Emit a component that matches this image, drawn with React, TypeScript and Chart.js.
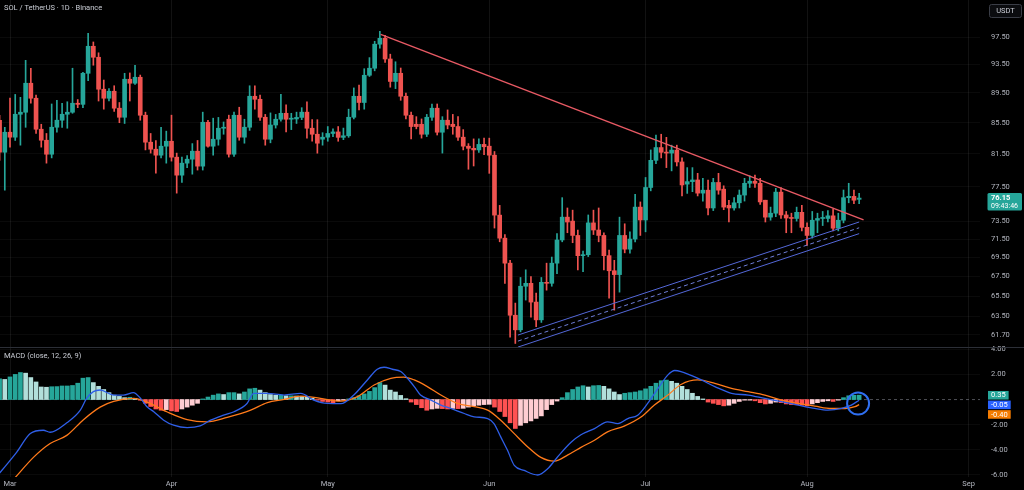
import React, { useEffect, useRef } from "react";
import { Chart, registerables } from "chart.js";

Chart.register(...registerables);

const FONT = "Roboto, 'Liberation Sans', sans-serif";
const TITLE = "SOL / TetherUS · 1D · Binance";
const MACD_TITLE = "MACD (close, 12, 26, 9)";
const COUNTDOWN = "09:43:46";
const CURRENCY = "USDT";

// day index of the first candle (Mar 1 = day 0)
const FIRST_DAY = -2;

// [open, high, low, close] for each daily candle
const candleOHLC: number[][] = [
  [85.83, 86.49, 80.7, 81.71],
  [81.71, 84.9, 77.08, 84.26],
  [84.26, 88.8, 82.35, 83.62],
  [83.62, 89.3, 83.2, 86.62],
  [86.62, 88.9, 82.6, 86.89],
  // 3..7
  [86.89, 94.11, 84.9, 90.85],
  [90.85, 92.97, 88.1, 88.78],
  [88.78, 89.2, 84.1, 84.65],
  [84.65, 85.3, 82.35, 83.23],
  [83.23, 84.1, 80.35, 81.46],
  // 8..12
  [81.46, 88.0, 81.0, 84.91],
  [84.91, 88.5, 84.26, 85.83],
  [85.83, 88.1, 84.9, 86.62],
  [86.62, 88.3, 84.78, 86.89],
  [86.89, 92.97, 86.75, 88.1],
  // 13..17
  [88.1, 88.6, 87.5, 87.95],
  [87.95, 92.4, 87.5, 92.25],
  [92.25, 98.1, 91.2, 96.16],
  [96.16, 96.8, 93.4, 94.55],
  [94.55, 95.2, 88.4, 90.02],
  // 18..22
  [90.02, 91.3, 87.3, 88.78],
  [88.78, 90.1, 88.4, 89.74],
  [89.74, 90.5, 87.0, 87.43],
  [87.43, 88.2, 85.5, 86.22],
  [86.22, 92.25, 85.4, 91.41],
  // 23..27
  [91.41, 92.3, 88.4, 90.85],
  [90.85, 93.4, 90.7, 91.69],
  [91.69, 92.0, 85.83, 86.49],
  [86.49, 86.9, 82.0, 82.98],
  [82.98, 84.1, 81.6, 82.09],
  // 28..32
  [82.09, 83.2, 79.12, 81.34],
  [81.34, 84.9, 81.0, 82.47],
  [82.47, 84.4, 80.35, 83.1],
  [83.1, 86.5, 80.6, 81.09],
  [81.09, 81.6, 76.73, 78.88],
  // 33..37
  [78.88, 81.1, 78.0, 80.35],
  [80.35, 81.3, 79.8, 80.84],
  [80.84, 82.8, 79.0, 81.84],
  [81.84, 83.2, 79.5, 79.98],
  [79.98, 86.9, 79.5, 85.56],
  // 38..42
  [85.56, 85.83, 82.35, 82.47],
  [82.47, 86.1, 81.34, 83.36],
  [83.36, 86.2, 82.6, 84.78],
  [84.78, 85.6, 84.0, 84.91],
  [85.96, 86.5, 81.1, 81.46],
  // 43..47
  [81.46, 86.9, 81.2, 86.49],
  [86.49, 87.56, 83.23, 83.62],
  [83.62, 85.96, 82.85, 84.91],
  [84.91, 90.5, 84.5, 89.05],
  [89.05, 90.5, 87.3, 88.64],
  // 48..52
  [88.64, 89.2, 85.8, 86.22],
  [86.22, 86.6, 82.6, 83.36],
  [83.36, 86.8, 82.9, 85.2],
  [85.2, 86.6, 84.8, 85.96],
  [85.96, 89.3, 85.7, 86.75],
  // 53..57
  [86.75, 87.9, 84.3, 85.96],
  [85.96, 86.75, 84.6, 86.1],
  [86.0, 86.9, 85.4, 86.2],
  [86.2, 87.5, 85.9, 86.9],
  [86.9, 88.3, 83.5, 84.78],
  // 58..62
  [84.78, 85.9, 83.1, 84.0],
  [84.0, 85.9, 81.59, 82.85],
  [83.36, 84.2, 82.6, 83.62],
  [83.62, 85.0, 83.1, 84.1],
  [84.1, 84.7, 83.7, 84.3],
  // 63..67
  [84.3, 85.0, 83.1, 83.6],
  [83.6, 84.8, 83.3, 83.8],
  [83.8, 87.3, 83.6, 86.22],
  [86.22, 90.2, 86.0, 89.05],
  [89.05, 90.6, 87.2, 88.2],
  // 68..72
  [88.2, 92.9, 87.3, 91.97],
  [91.97, 94.5, 91.8, 92.97],
  [92.97, 96.9, 92.6, 96.47],
  [96.47, 98.4, 95.9, 97.35],
  [97.35, 97.8, 93.8, 94.3],
  // 73..77
  [94.3, 95.0, 90.3, 91.1],
  [91.1, 93.9, 90.1, 92.25],
  [92.25, 93.0, 88.5, 89.05],
  [89.05, 89.5, 86.0, 86.49],
  [86.49, 86.9, 83.4, 85.0],
  // 78..82
  [85.3, 86.3, 84.7, 85.0],
  [85.3, 86.0, 83.5, 84.0],
  [84.0, 86.6, 83.7, 86.22],
  [86.22, 88.0, 85.8, 87.43],
  [87.43, 88.0, 83.9, 84.26],
  // 83..87
  [84.26, 86.3, 81.6, 85.83],
  [85.83, 87.2, 84.7, 85.2],
  [85.3, 86.6, 84.0, 85.0],
  [85.0, 86.3, 83.2, 83.62],
  [83.62, 84.6, 82.0, 82.47],
  // 88..92
  [82.47, 82.8, 79.6, 82.2],
  [82.2, 83.4, 80.0, 82.0],
  [82.0, 83.4, 81.7, 82.7],
  [82.7, 83.5, 81.4, 82.4],
  [82.47, 83.5, 79.1, 81.34],
  // 93..97
  [81.34, 81.8, 72.72, 74.18],
  [74.18, 75.3, 71.2, 71.6],
  [71.6, 72.0, 66.8, 68.9],
  [68.9, 69.2, 61.5, 63.6],
  [63.6, 64.8, 60.9, 62.19],
  // 98..102
  [62.19, 67.4, 62.0, 66.5],
  [66.5, 68.2, 65.1, 66.8],
  [66.8, 67.5, 63.4, 64.9],
  [64.9, 65.8, 62.5, 63.15],
  [63.15, 67.4, 62.9, 66.9],
  // 103..107
  [66.9, 68.9, 66.1, 66.8],
  [66.8, 69.55, 66.5, 68.9],
  [68.9, 72.1, 67.8, 71.4],
  [71.4, 76.2, 71.2, 73.95],
  [73.95, 75.0, 72.2, 73.4],
  // 108..112
  [73.5, 74.75, 71.1, 71.9],
  [71.9, 72.5, 68.2, 69.7],
  [69.7, 70.2, 68.0, 69.8],
  [69.8, 74.2, 69.6, 73.3],
  [73.3, 74.75, 72.0, 72.5],
  // 113..117
  [72.5, 75.0, 71.2, 71.9],
  [71.9, 72.2, 68.2, 69.7],
  [69.7, 70.3, 65.3, 68.1],
  [68.1, 69.2, 64.1, 67.7],
  [67.7, 73.95, 65.9, 71.9],
  // 118..122
  [71.9, 73.2, 70.0, 70.4],
  [70.4, 72.3, 69.98, 71.5],
  [71.5, 76.6, 71.2, 75.1],
  [75.1, 75.7, 71.9, 73.63],
  [73.63, 78.6, 72.3, 77.4],
  // 123..127
  [77.4, 82.0, 77.0, 80.7],
  [80.7, 83.9, 80.3, 82.3],
  [82.3, 84.0, 81.0, 81.7],
  [81.7, 83.6, 79.8, 81.6],
  [81.6, 82.6, 79.4, 81.98],
  // 128..132
  [81.98, 82.6, 80.0, 80.5],
  [80.5, 81.0, 76.4, 77.7],
  [77.8, 79.8, 76.7, 78.1],
  [78.1, 79.8, 76.9, 78.3],
  [78.3, 79.1, 76.4, 76.73],
  // 133..137
  [76.73, 78.5, 75.8, 77.08],
  [77.08, 78.28, 74.2, 75.0],
  [75.0, 78.5, 74.7, 78.0],
  [78.0, 79.1, 76.6, 77.08],
  [77.2, 77.6, 74.8, 75.1],
  // 138..142
  [75.3, 75.9, 73.4, 75.0],
  [75.0, 76.2, 74.75, 75.6],
  [75.6, 77.1, 75.0, 76.5],
  [76.5, 78.5, 75.8, 77.9],
  [77.9, 78.8, 77.4, 78.15],
  // 143..147
  [78.15, 78.9, 77.4, 77.9],
  [77.9, 78.5, 75.4, 75.7],
  [75.9, 75.9, 73.4, 73.95],
  [73.95, 75.1, 73.6, 74.4],
  [74.4, 77.3, 74.0, 76.85],
  // 148..152
  [76.85, 77.4, 73.8, 74.2],
  [74.2, 74.6, 72.2, 73.85],
  [73.9, 74.4, 72.2, 73.8],
  [73.8, 75.1, 73.5, 74.5],
  [74.5, 75.3, 72.4, 72.8],
  // 153..157
  [72.8, 73.3, 70.8, 71.9],
  [71.9, 74.6, 71.6, 73.6],
  [73.6, 74.4, 72.2, 73.8],
  [73.8, 74.6, 73.0, 73.9],
  [73.8, 74.7, 73.4, 74.1],
  // 158..163
  [74.1, 74.9, 72.4, 72.7],
  [72.7, 74.4, 72.4, 73.6],
  [73.6, 77.1, 73.3, 76.2],
  [76.2, 77.9, 75.6, 76.35],
  [76.35, 77.1, 75.5, 75.9],
  [76.0, 76.7, 75.5, 76.15],
];

// MACD histogram, one value per candle
const macdHist: number[] = [
  1.65, 1.6, 1.8, 2.0, 2.15, 2.1, 1.75, 1.4, 1.0, 0.98, 1.02, 1.03,
  1.08, 1.08, 1.12, 1.3, 1.7, 1.75, 1.35, 1.05, 0.8, 0.55, 0.35, 0.25,
  0.15, 0.18, 0.1, -0.05, -0.3, -0.55, -0.75, -0.85, -0.8, -0.9, -0.95, -0.75,
  -0.6, -0.45, -0.3, 0.05, 0.2, 0.35, 0.45, 0.4, 0.55, 0.55, 0.45, 0.6,
  0.85, 0.9, 0.75, 0.55, 0.4, 0.35, 0.35, 0.3, 0.3, 0.28, 0.25, 0.2,
  0.1, -0.05, -0.15, -0.2, -0.25, -0.1, -0.05, 0.05, 0.15, 0.3, 0.45, 0.65,
  0.95, 1.35, 1.15, 0.75, 0.6, 0.33, 0.07, -0.2, -0.4, -0.65, -0.85, -0.75,
  -0.7, -0.72, -0.75, -0.7, -0.72, -0.7, -0.6, -0.5, -0.45, -0.4, -0.38, -0.6,
  -0.95, -1.35, -1.85, -2.3, -2.05, -1.85, -1.7, -1.5, -1.3, -0.8, -0.4, -0.12,
  0.15, 0.55, 0.8, 1.0, 1.1, 1.0, 1.1, 1.12, 1.05, 0.85, 0.6, 0.4,
  0.5, 0.55, 0.6, 0.7, 0.85, 1.05, 1.3, 1.5, 1.55, 1.45, 1.3, 1.05,
  0.8, 0.5, 0.25, 0.05, -0.2, -0.3, -0.4, -0.5, -0.45, -0.3, -0.15, -0.05,
  -0.05, -0.1, -0.25, -0.35, -0.3, -0.2, -0.25, -0.35, -0.4, -0.42, -0.45, -0.5,
  -0.35, -0.25, -0.15, -0.1, -0.15, -0.05, 0.15, 0.3, 0.34, 0.35,
];

// MACD line (blue)
const macdDays: number[] = [
  -2, -1, 1.3, 3.9, 6.4, 7.7, 10.9, 13.5, 14.7, 16, 17.3, 19.9, 21.8, 23.7, 25, 26.3, 27.6, 29.5,
  31.4, 34, 36.5, 38.5, 41, 43, 45.5, 46.8, 49.4, 52.6, 55.8, 58.3, 60.9, 63.5, 66, 68.6, 70.5,
  71.8, 73.4, 75, 76.3, 77.6, 78.8, 80.8, 82.7, 84.6, 87.2, 89.1, 91.7, 92.9, 94.2, 95.5, 96.8,
  98.7, 101.3, 103.2, 105.1, 107.7, 109.6, 112.2, 114.7, 116.7, 118.6, 120.5, 122.4, 124.4,
  126.3, 127.6, 128.8, 132.7, 135.3, 138.5, 141.7, 144.9, 148.1, 151.3, 154.5, 157, 159.6,
  161.5, 163,
];
const macdVals: number[] = [
  -5.85, -5.35, -4.18, -2.7, -2.44, -2.6, -1.85, -0.84, 0.09, 0.63, 0.76, 0.36, 0.36, 0.55, 0.12,
  -0.57, -0.97, -1.64, -2.04, -2.24, -2.1, -1.64, -1.24, -0.97, -0.31, 0.49, 0.49, 0.36, 0.49,
  -0.04, -0.31, -0.33, 0.36, 1.56, 2.41, 2.57, 2.41, 2.23, 1.69, 1.03, 0.36, -0.04, -0.44, -0.71,
  -1.11, -1.37, -1.51, -1.91, -2.97, -4.04, -5.24, -5.64, -6.0, -5.51, -4.57, -3.4, -2.8, -2.31,
  -1.77, -1.91, -1.51, -1.24, -0.31, 0.89, 1.96, 2.31, 2.23, 1.56, 1.03, 0.49, 0.36, 0.09, -0.17,
  -0.44, -0.71, -0.84, -0.71, -0.44, -0.05,
];

// Signal line (orange)
const signalDays: number[] = [
  1, 4.5, 7.7, 10.9, 14.1, 17.3, 19.9, 23.7, 26.3, 30.1, 34, 37.8, 41.7, 46.2, 49.4, 52.6, 55.8,
  59.6, 63.5, 66.7, 69.9, 73.1, 75.6, 77.6, 80.1, 82.7, 85.9, 89.1, 91.7, 94.2, 96.8, 99.4, 101.9,
  104.5, 107.1, 109.6, 112.2, 114.7, 117.9, 121.2, 123.7, 126.3, 128.8, 132, 135.3, 138.5, 141.7,
  144.9, 148.1, 151.3, 154.5, 157.7, 160.3, 162.2, 163,
];
const signalVals: number[] = [
  -6.2, -4.6, -3.5, -2.85, -1.6, -0.6, -0.15, 0.09, -0.2, -0.97, -1.59, -1.77, -1.41, -0.84,
  -0.24, 0.01, 0.28, 0.09, -0.12, 0.23, 1.16, 1.69, 1.78, 1.56, 1.03, 0.36, -0.31, -0.57, -0.84,
  -1.64, -2.71, -3.77, -4.6, -4.9, -4.4, -3.8, -3.24, -2.57, -2.11, -1.37, -0.44, 0.36, 1.2, 1.56,
  1.29, 0.89, 0.63, 0.36, -0.04, -0.31, -0.52, -0.71, -0.71, -0.57, -0.4,
];

// Drawn trend lines (day, price)
const resistanceDays = [71.15, 163.85];
const resistancePrices = [97.95, 73.63];
const channelDays = [97.5, 163];
const channelUpper = [61.69, 73.4];
const channelMiddle = [61.12, 72.75];
const channelLower = [60.56, 72.1];

// Circle annotation on MACD pane
const circleDay = [162.8];
const circleValue = [-0.32];

// Axes
const monthTickDays = [0, 31, 61, 92, 122, 153, 184];
const monthLabels = ["Mar", "Apr", "May", "Jun", "Jul", "Aug", "Sep"];
const priceTicks = [61.7, 63.5, 65.5, 67.5, 69.5, 71.5, 73.5, 77.5, 81.5, 85.5, 89.5, 93.5, 97.5];
const macdTicks = [-6, -4, -2, 2, 4];

const UP = "#26a69a";
const DOWN = "#ef5350";
const LABEL = "#b2b5be";

function roundRect(ctx: CanvasRenderingContext2D, x: number, y: number, w: number, h: number, r: number) {
  ctx.beginPath();
  ctx.moveTo(x + r, y);
  ctx.lineTo(x + w - r, y);
  ctx.quadraticCurveTo(x + w, y, x + w, y + r);
  ctx.lineTo(x + w, y + h - r);
  ctx.quadraticCurveTo(x + w, y + h, x + w - r, y + h);
  ctx.lineTo(x + r, y + h);
  ctx.quadraticCurveTo(x, y + h, x, y + h - r);
  ctx.lineTo(x, y + r);
  ctx.quadraticCurveTo(x, y, x + r, y);
  ctx.closePath();
}

const overlayPlugin = {
  id: "tvOverlay",
  afterDraw(chart: any) {
    const ctx: CanvasRenderingContext2D = chart.ctx;
    const yS = chart.scales.y;
    const y2S = chart.scales.y2;
    ctx.save();
    // pane separator
    const sepY = Math.round(yS.bottom) + 0.5;
    ctx.strokeStyle = "#2c2f37";
    ctx.lineWidth = 1;
    ctx.beginPath();
    ctx.moveTo(0, sepY);
    ctx.lineTo(chart.width, sepY);
    ctx.stroke();

    ctx.font = `7.5px ${FONT}`;
    ctx.textBaseline = "middle";
    ctx.textAlign = "left";
    ctx.fillStyle = "#c9ccd4";
    ctx.fillText(TITLE, 4, 8.5);
    ctx.fillText(MACD_TITLE, 4, y2S.top + 9);

    // currency box
    roundRect(ctx, 989.5, 4.5, 32, 13, 2);
    ctx.fillStyle = "#0b0c0f";
    ctx.fill();
    ctx.strokeStyle = "#3a3d46";
    ctx.stroke();
    ctx.fillStyle = "#c9ccd4";
    ctx.textAlign = "center";
    ctx.fillText(CURRENCY, 1005.5, 11);

    // last price label
    const last = candleOHLC[candleOHLC.length - 1][3];
    const py = yS.getPixelForValue(last);
    ctx.fillStyle = UP;
    roundRect(ctx, 987.5, py - 5, 34.5, 17.5, 1.5);
    ctx.fill();
    ctx.fillStyle = "#ffffff";
    ctx.textAlign = "left";
    ctx.font = `bold 7.5px ${FONT}`;
    ctx.fillText(last.toFixed(2), 991, py + 0.5);
    ctx.font = `7px ${FONT}`;
    ctx.fillText(COUNTDOWN, 991, py + 8);

    // MACD value labels
    const vals = [
      { v: macdHist[macdHist.length - 1], c: UP },
      { v: macdVals[macdVals.length - 1], c: "#2962ff" },
      { v: signalVals[signalVals.length - 1], c: "#f57c00" },
    ];
    let prev = -Infinity;
    ctx.font = `7.5px ${FONT}`;
    vals.forEach(({ v, c }) => {
      let cy = y2S.getPixelForValue(v);
      if (cy < prev + 9.6) cy = prev + 9.6;
      prev = cy;
      const txt = v.toFixed(2);
      const w = ctx.measureText(txt).width + 6;
      ctx.fillStyle = c;
      ctx.fillRect(988, cy - 4.2, w, 8.6);
      ctx.fillStyle = "#ffffff";
      ctx.fillText(txt, 991, cy + 0.3);
    });
    ctx.restore();
  },
};

export default function App() {
  const ref = useRef<HTMLCanvasElement>(null);

  useEffect(() => {
    document.body.style.margin = "0";
    document.body.style.background = "#000";
    const days = candleOHLC.map((_, i) => FIRST_DAY + i);
    const candleColors = candleOHLC.map((c) => (c[3] >= c[0] ? UP : DOWN));
    const histColors = macdHist.map((v, i) => {
      const p = i > 0 ? macdHist[i - 1] : v;
      if (v >= 0) return v >= p ? "#26a69a" : "#b2dfdb";
      return v < p ? "#ff5252" : "#ffcdd2";
    });
    const X_MIN = -1.92;
    const X_MAX = 186.2;

    const chart = new Chart(ref.current as HTMLCanvasElement, {
      type: "bar",
      data: {
        datasets: [
          {
            type: "line",
            data: [
              { x: X_MIN, y: 0 },
              { x: X_MAX, y: 0 },
            ],
            yAxisID: "y2",
            borderColor: "rgba(130,133,144,0.6)",
            borderWidth: 1,
            borderDash: [3, 3],
            pointRadius: 0,
            order: 20,
          },
          {
            type: "bar",
            data: macdHist.map((v, i) => ({ x: days[i], y: v })),
            yAxisID: "y2",
            backgroundColor: histColors,
            barThickness: 4,
            grouped: false,
            order: 19,
          },
          {
            type: "line",
            data: signalDays.map((d, i) => ({ x: d, y: signalVals[i] })),
            yAxisID: "y2",
            borderColor: "#ff7a1a",
            borderWidth: 1.3,
            pointRadius: 0,
            cubicInterpolationMode: "monotone",
            order: 18,
          },
          {
            type: "line",
            data: macdDays.map((d, i) => ({ x: d, y: macdVals[i] })),
            yAxisID: "y2",
            borderColor: "#2f5fe8",
            borderWidth: 1.3,
            pointRadius: 0,
            cubicInterpolationMode: "monotone",
            order: 17,
          },
          {
            type: "bar",
            data: candleOHLC.map((c, i) => ({ x: days[i], y: [c[2], c[1]] })),
            yAxisID: "y",
            backgroundColor: candleColors,
            barThickness: 1,
            grouped: false,
            order: 16,
          },
          {
            type: "bar",
            data: candleOHLC.map((c, i) => ({ x: days[i], y: [c[0], c[3]] })),
            yAxisID: "y",
            backgroundColor: candleColors,
            barThickness: 4,
            minBarLength: 1,
            grouped: false,
            order: 15,
          },
          {
            type: "line",
            data: channelDays.map((d, i) => ({ x: d, y: channelUpper[i] })),
            yAxisID: "y",
            borderColor: "#5468d8",
            borderWidth: 1,
            pointRadius: 0,
            order: 14,
          },
          {
            type: "line",
            data: channelDays.map((d, i) => ({ x: d, y: channelMiddle[i] })),
            yAxisID: "y",
            borderColor: "#6f7fd8",
            borderWidth: 1,
            borderDash: [4, 3],
            pointRadius: 0,
            order: 13,
          },
          {
            type: "line",
            data: channelDays.map((d, i) => ({ x: d, y: channelLower[i] })),
            yAxisID: "y",
            borderColor: "#5468d8",
            borderWidth: 1,
            pointRadius: 0,
            order: 12,
          },
          {
            type: "line",
            data: resistanceDays.map((d, i) => ({ x: d, y: resistancePrices[i] })),
            yAxisID: "y",
            borderColor: "#e85a64",
            borderWidth: 1.4,
            pointRadius: 0,
            order: 11,
          },
          {
            type: "line",
            data: circleDay.map((d, i) => ({ x: d, y: circleValue[i] })),
            yAxisID: "y2",
            showLine: false,
            pointRadius: 11,
            pointBorderWidth: 2,
            pointBorderColor: "#2f6ff0",
            pointBackgroundColor: "rgba(0,0,0,0)",
            order: 10,
          },
        ] as any,
      },
      options: {
        responsive: true,
        maintainAspectRatio: false,
        animation: false,
        events: [],
        layout: { padding: 0, autoPadding: false },
        plugins: {
          legend: { display: false },
          tooltip: { enabled: false },
        },
        scales: {
          x: {
            type: "linear",
            position: "bottom",
            min: X_MIN,
            max: X_MAX,
            offset: false,
            grid: { color: "rgba(255,255,255,0.07)", drawTicks: false, offset: false },
            border: { display: false },
            ticks: {
              color: LABEL,
              font: { family: FONT, size: 7.5 },
              padding: 3,
              autoSkip: false,
              maxRotation: 0,
              callback: (v: any) => {
                const k = monthTickDays.indexOf(Number(v));
                return k >= 0 ? monthLabels[k] : "";
              },
            },
            afterBuildTicks: (s: any) => {
              s.ticks = monthTickDays.map((v) => ({ value: v }));
            },
            afterFit: (s: any) => {
              s.height = 13;
              s.paddingLeft = 0;
              s.paddingRight = 0;
            },
          },
          y: {
            type: "logarithmic",
            position: "right",
            stack: "panes",
            stackWeight: 347,
            min: 60.57,
            max: 103.25,
            grid: { color: "rgba(255,255,255,0.04)", drawTicks: false },
            border: { display: false },
            ticks: {
              color: LABEL,
              font: { family: FONT, size: 7.5 },
              padding: 11,
              autoSkip: false,
              callback: (v: any) => Number(v).toFixed(2),
            },
            afterBuildTicks: (s: any) => {
              s.ticks = priceTicks.map((v) => ({ value: v }));
            },
            afterFit: (s: any) => {
              s.width = 44;
              s.paddingTop = 0;
              s.paddingBottom = 0;
            },
          },
          y2: {
            type: "linear",
            position: "right",
            stack: "panes",
            stackWeight: 130,
            min: -6.16,
            max: 4.18,
            grid: { color: "rgba(255,255,255,0.04)", drawTicks: false },
            border: { display: false },
            ticks: {
              color: LABEL,
              font: { family: FONT, size: 7.5 },
              padding: 11,
              autoSkip: false,
              callback: (v: any) => Number(v).toFixed(2),
            },
            afterBuildTicks: (s: any) => {
              s.ticks = macdTicks.map((v) => ({ value: v }));
            },
            afterFit: (s: any) => {
              s.width = 44;
              s.paddingTop = 0;
              s.paddingBottom = 0;
            },
          },
        },
      } as any,
      plugins: [overlayPlugin as any],
    });
    return () => chart.destroy();
  }, []);

  return (
    <div
      style={{
        position: "fixed",
        left: 0,
        top: 0,
        width: 1024,
        height: 490,
        background: "#000",
      }}
    >
      <canvas ref={ref} />
    </div>
  );
}
